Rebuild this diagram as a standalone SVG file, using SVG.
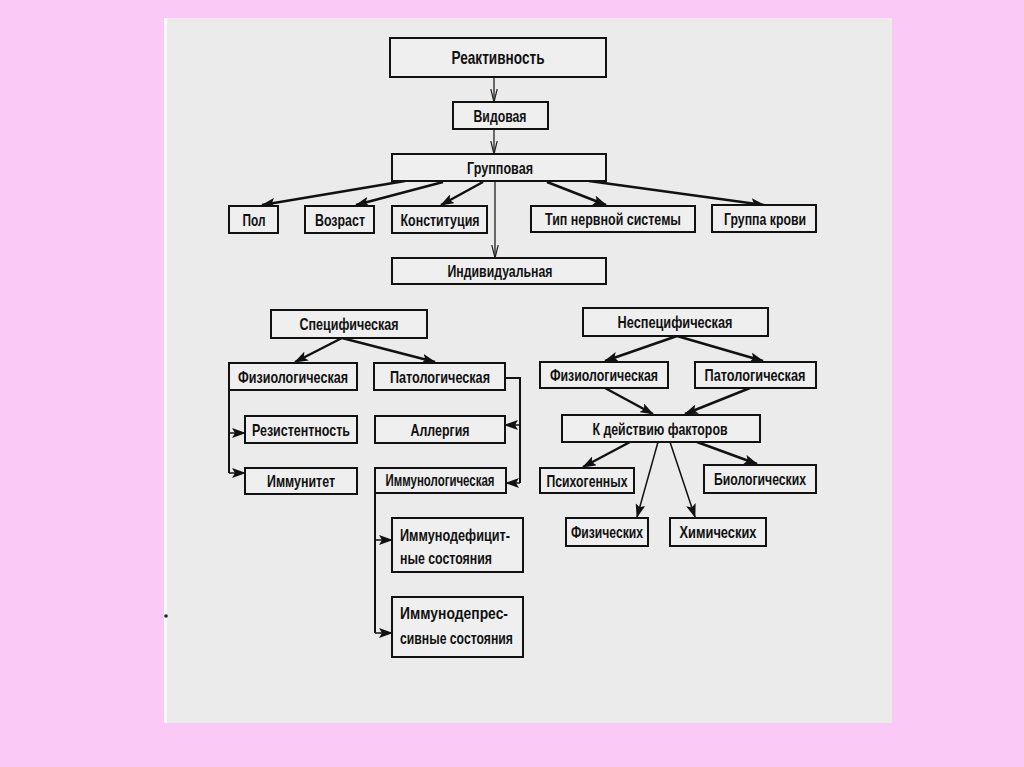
<svg xmlns="http://www.w3.org/2000/svg" width="1024" height="767" viewBox="0 0 1024 767">
<style>
.box{fill:#efefef;stroke:#111;stroke-width:2}
.t{font-family:"Liberation Sans",Arial,sans-serif;font-size:16.5px;font-weight:bold;fill:#111;text-anchor:middle}
.tl{font-family:"Liberation Sans",Arial,sans-serif;font-size:16.5px;font-weight:bold;fill:#111}
.a{stroke:#111;stroke-width:2.5;fill:none;marker-end:url(#ah)}
.a2{stroke:#111;stroke-width:1.5;fill:none;marker-end:url(#ah)}
.v{stroke:#222;stroke-width:1.3;fill:none;marker-end:url(#oh)}
.b{stroke:#111;stroke-width:2;fill:none}
</style>
<defs>
<marker id="ah" markerUnits="userSpaceOnUse" markerWidth="14" markerHeight="10" refX="13" refY="5" orient="auto">
<path d="M0,0 L14,5 L0,10 L3,5 z" fill="#111"/>
</marker>
<marker id="oh" markerUnits="userSpaceOnUse" markerWidth="14" markerHeight="8" refX="13" refY="4" orient="auto">
<path d="M0,0.8 L13,4 L0,7.2" fill="none" stroke="#222" stroke-width="1.2"/>
</marker>
</defs>
<rect x="0" y="0" width="1024" height="767" fill="#fbc9f6"/>
<rect x="164" y="18" width="728" height="705" fill="#ebebeb"/>
<rect x="164" y="18" width="3" height="705" fill="#fafafa"/>
<circle cx="166" cy="616" r="1.8" fill="#222"/>

<g id="connectors">
<line class="v" x1="494" y1="77" x2="494" y2="102"/>
<line class="v" x1="494" y1="129" x2="494" y2="154"/>
<line class="v" x1="495" y1="181" x2="495" y2="258"/>
<line class="a" x1="405" y1="181" x2="262" y2="205"/>
<line class="a" x1="443" y1="182" x2="356" y2="205"/>
<line class="a" x1="483" y1="182" x2="441" y2="205"/>
<line class="a" x1="547" y1="182" x2="606" y2="205"/>
<line class="a" x1="589" y1="181" x2="764" y2="205"/>
<line class="a" x1="342" y1="338" x2="295" y2="362"/>
<line class="a" x1="342" y1="338" x2="435" y2="362"/>
<line class="a" x1="677" y1="336" x2="605" y2="361"/>
<line class="a" x1="677" y1="336" x2="763" y2="361"/>
<line class="a" x1="605" y1="388" x2="653" y2="414"/>
<line class="a" x1="750" y1="388" x2="685" y2="414"/>
<line class="a" x1="630" y1="442" x2="583" y2="467"/>
<line class="a2" x1="658" y1="442" x2="637" y2="517"/>
<line class="a2" x1="670" y1="442" x2="695" y2="517"/>
<line class="a" x1="697" y1="442" x2="757" y2="464"/>
<polyline class="b" points="229,390 229,473"/>
<line class="a2" x1="229" y1="433" x2="245" y2="433"/>
<line class="a2" x1="229" y1="473" x2="245" y2="473"/>
<polyline class="b" points="505,378 520,378 520,483"/>
<line class="a2" x1="520" y1="425" x2="505" y2="425"/>
<line class="a2" x1="520" y1="483" x2="506" y2="483"/>
<polyline class="b" points="375,493 375,633"/>
<line class="a2" x1="375" y1="540" x2="392" y2="540"/>
<line class="a2" x1="375" y1="633" x2="392" y2="633"/>
</g>

<g id="reakt"><rect class="box" x="390" y="38" width="216" height="39"/><text class="t" x="498" y="64" style="font-size:19px" textLength="93" lengthAdjust="spacingAndGlyphs">Реактивность</text></g>
<g id="vid"><rect class="box" x="453" y="102" width="95" height="27"/><text class="t" x="500" y="122" textLength="53" lengthAdjust="spacingAndGlyphs">Видовая</text></g>
<g id="grup"><rect class="box" x="392" y="154" width="214" height="27"/><text class="t" x="500" y="174" textLength="66" lengthAdjust="spacingAndGlyphs">Групповая</text></g>
<g id="pol"><rect class="box" x="229" y="206" width="49" height="27"/><text class="t" x="254" y="226" textLength="23" lengthAdjust="spacingAndGlyphs">Пол</text></g>
<g id="vozr"><rect class="box" x="305" y="206" width="69" height="27"/><text class="t" x="340" y="226" textLength="50" lengthAdjust="spacingAndGlyphs">Возраст</text></g>
<g id="konst"><rect class="box" x="392" y="206" width="95" height="27"/><text class="t" x="440" y="226" textLength="79" lengthAdjust="spacingAndGlyphs">Конституция</text></g>
<g id="tip"><rect class="box" x="531" y="206" width="164" height="26"/><text class="t" x="613" y="225" textLength="136" lengthAdjust="spacingAndGlyphs">Тип нервной системы</text></g>
<g id="grkr"><rect class="box" x="712" y="205" width="104" height="27"/><text class="t" x="765" y="225" textLength="82" lengthAdjust="spacingAndGlyphs">Группа крови</text></g>
<g id="indiv"><rect class="box" x="392" y="258" width="214" height="26"/><text class="t" x="500" y="277" textLength="105" lengthAdjust="spacingAndGlyphs">Индивидуальная</text></g>

<g id="spec"><rect class="box" x="271" y="310" width="156" height="28"/><text class="t" x="349" y="330" textLength="99" lengthAdjust="spacingAndGlyphs">Специфическая</text></g>
<g id="fiz1"><rect class="box" x="229" y="363" width="128" height="27"/><text class="t" x="293" y="383" textLength="110" lengthAdjust="spacingAndGlyphs">Физиологическая</text></g>
<g id="pat1"><rect class="box" x="374" y="363" width="131" height="27"/><text class="t" x="440" y="383" textLength="100" lengthAdjust="spacingAndGlyphs">Патологическая</text></g>
<g id="rez"><rect class="box" x="245" y="416" width="112" height="27"/><text class="t" x="301" y="436" textLength="98" lengthAdjust="spacingAndGlyphs">Резистентность</text></g>
<g id="imt"><rect class="box" x="245" y="468" width="112" height="26"/><text class="t" x="301" y="487" textLength="68" lengthAdjust="spacingAndGlyphs">Иммунитет</text></g>
<g id="allerg"><rect class="box" x="375" y="416" width="130" height="27"/><text class="t" x="440" y="436" textLength="59" lengthAdjust="spacingAndGlyphs">Аллергия</text></g>
<g id="immlog"><rect class="box" x="375" y="468" width="131" height="25"/><text class="t" x="440" y="486" textLength="109" lengthAdjust="spacingAndGlyphs">Иммунологическая</text></g>
<g id="immdef"><rect class="box" x="392" y="518" width="131" height="54"/><text class="tl" x="400" y="541" textLength="110" lengthAdjust="spacingAndGlyphs">Иммунодефицит-</text><text class="tl" x="400" y="564" textLength="92" lengthAdjust="spacingAndGlyphs">ные состояния</text></g>
<g id="immdep"><rect class="box" x="392" y="597" width="131" height="60"/><text class="tl" x="400" y="619" textLength="108" lengthAdjust="spacingAndGlyphs">Иммунодепрес-</text><text class="tl" x="400" y="644" textLength="113" lengthAdjust="spacingAndGlyphs">сивные состояния</text></g>

<g id="nespec"><rect class="box" x="583" y="308" width="185" height="28"/><text class="t" x="675" y="328" textLength="115" lengthAdjust="spacingAndGlyphs">Неспецифическая</text></g>
<g id="fiz2"><rect class="box" x="540" y="362" width="128" height="26"/><text class="t" x="604" y="381" textLength="108" lengthAdjust="spacingAndGlyphs">Физиологическая</text></g>
<g id="pat2"><rect class="box" x="695" y="362" width="121" height="26"/><text class="t" x="755" y="381" textLength="101" lengthAdjust="spacingAndGlyphs">Патологическая</text></g>
<g id="kdeist"><rect class="box" x="562" y="415" width="198" height="27"/><text class="t" x="660" y="435" textLength="135" lengthAdjust="spacingAndGlyphs">К действию факторов</text></g>
<g id="psih"><rect class="box" x="540" y="468" width="94" height="25"/><text class="t" x="587" y="487" textLength="81" lengthAdjust="spacingAndGlyphs">Психогенных</text></g>
<g id="biol"><rect class="box" x="704" y="465" width="112" height="28"/><text class="t" x="760" y="485" textLength="92" lengthAdjust="spacingAndGlyphs">Биологических</text></g>
<g id="fizich"><rect class="box" x="566" y="518" width="82" height="28"/><text class="t" x="607" y="538" textLength="72" lengthAdjust="spacingAndGlyphs">Физических</text></g>
<g id="him"><rect class="box" x="670" y="518" width="96" height="28"/><text class="t" x="718" y="538" textLength="77" lengthAdjust="spacingAndGlyphs">Химических</text></g>
</svg>
